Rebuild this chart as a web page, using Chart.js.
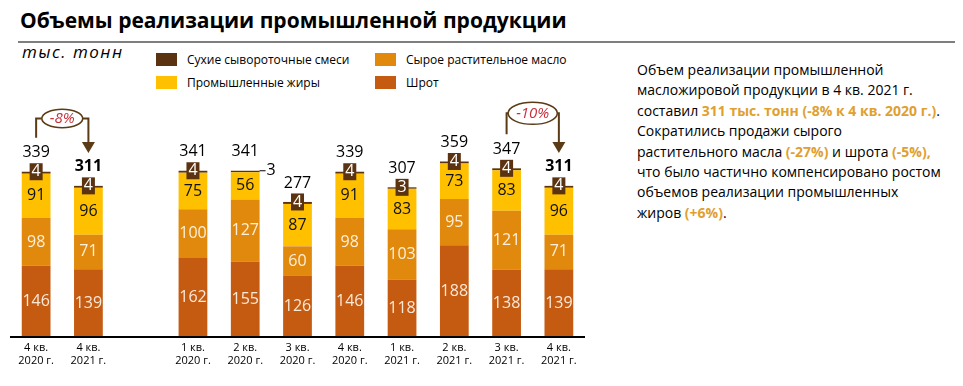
<!DOCTYPE html>
<html lang="ru">
<head>
<meta charset="utf-8">
<script src="https://cdn.jsdelivr.net/npm/chart.js@4.4.1/dist/chart.umd.min.js"></script>
<style>
    body { margin: 0; width: 963px; height: 386px; background: #fff; position: relative; overflow: hidden; font-family: "Open Sans", sans-serif; color: #000; }
    #title { position: absolute; left: 20px; top: 6px; font-size: 21px; font-weight: bold; }
    #rule { position: absolute; left: 18px; top: 41px; width: 937px; height: 2px; background: #7f7f7f; }
    #unit { position: absolute; left: 22px; top: 40px; font-style: italic; font-size: 17px; letter-spacing: 1.5px; }
    .legend-item { position: absolute; font-size: 12px; display: flex; align-items: center; white-space: nowrap; }
    .sw { width: 21px; height: 13px; margin-right: 10px; }
    #note { position: absolute; left: 637px; top: 60px; font-size: 14px; line-height: 20.4px; }
    .hl { color: #e0a030; font-weight: bold; }
    canvas { position: absolute; left: 0; top: 0; }
</style>
</head>
<body>
<div id="title">Объемы реализации промышленной продукции</div>
<div id="rule"></div>
<div id="unit">тыс. тонн</div>
<div id="legend"></div>
<div id="note">
    Объем реализации промышленной<br>
    масложировой продукции в 4 кв. 2021 г.<br>
    составил <span class="hl">311 тыс. тонн (-8% к 4 кв. 2020 г.)</span>.<br>
    Сократились продажи сырого<br>
    растительного масла <span class="hl">(-27%)</span> и шрота <span class="hl">(-5%),</span><br>
    что было частично компенсировано ростом<br>
    объемов реализации промышленных<br>
    жиров <span class="hl">(+6%)</span>.
</div>
<canvas id="salesChart" width="963" height="386"></canvas>
<script>
// Данные (тыс. тонн)
const categories = [
    ['4 кв.', '2020 г.'], ['4 кв.', '2021 г.'], '',
    ['1 кв.', '2020 г.'], ['2 кв.', '2020 г.'], ['3 кв.', '2020 г.'], ['4 кв.', '2020 г.'],
    ['1 кв.', '2021 г.'], ['2 кв.', '2021 г.'], ['3 кв.', '2021 г.'], ['4 кв.', '2021 г.']
];
const shrot = [146, 139, null, 162, 155, 126, 146, 118, 188, 138, 139];
const rawOil = [98, 71, null, 100, 127, 60, 98, 103, 95, 121, 71];
const fats = [91, 96, null, 75, 56, 87, 91, 83, 73, 83, 96];
const whey = [4, 4, null, 4, 3, 4, 4, 3, 4, 4, 4];
const totals = [339, 311, null, 341, 341, 277, 339, 307, 359, 347, 311];
const boldTotals = [1, 10];
const changes = [
    { from: 0, to: 1, text: '-8%' },
    { from: 9, to: 10, text: '-10%' }
];

const COLORS = {
    shrot: '#c55a11',
    rawOil: '#e0890c',
    fats: '#ffc000',
    whey: '#5c3310'
};
const ARROW = '#5b3a16';
const LABEL_FONT = '16px "Open Sans"';

// Легенда (в две колонки, как на слайде)
const legendItems = [
    { label: 'Сухие сывороточные смеси', color: COLORS.whey, x: 156, y: 51 },
    { label: 'Сырое растительное масло', color: COLORS.rawOil, x: 375, y: 51 },
    { label: 'Промышленные жиры', color: COLORS.fats, x: 156, y: 74 },
    { label: 'Шрот', color: COLORS.shrot, x: 375, y: 74 }
];
const legendEl = document.getElementById('legend');
legendItems.forEach(item => {
    const div = document.createElement('div');
    div.className = 'legend-item';
    div.style.left = item.x + 'px';
    div.style.top = item.y + 'px';
    div.innerHTML = `<span class="sw" style="background:${item.color}"></span>${item.label}`;
    legendEl.appendChild(div);
});

// Подписи значений, итоги и стрелки изменений
const labelsPlugin = {
    id: 'segmentLabels',
    afterDatasetsDraw(chart) {
        const ctx = chart.ctx;
        const xScale = chart.scales.x;
        const yScale = chart.scales.y;
        ctx.save();

        // базовая линия оси (на уровне нуля)
        const y0 = Math.round(yScale.getPixelForValue(0));
        ctx.fillStyle = '#000';
        ctx.fillRect(xScale.left, y0 - 1, xScale.right - xScale.left, 2);

        ctx.textAlign = 'center';
        ctx.textBaseline = 'middle';

        chart.data.datasets.forEach((ds, di) => {
            const meta = chart.getDatasetMeta(di);
            meta.data.forEach((bar, i) => {
                const v = ds.data[i];
                if (v == null) return;
                ctx.font = LABEL_FONT;
                if (ds.isWhey) {
                    if (v < 4 && i === 4) {
                        // выноска справа
                        const xr = bar.x + bar.width / 2;
                        ctx.strokeStyle = '#000';
                        ctx.lineWidth = 1;
                        ctx.beginPath();
                        ctx.moveTo(xr, bar.y);
                        ctx.lineTo(xr + 6, bar.y);
                        ctx.stroke();
                        ctx.fillStyle = '#000';
                        ctx.textAlign = 'left';
                        ctx.fillText(v, xr + 7, bar.y);
                        ctx.textAlign = 'center';
                    } else {
                        ctx.fillStyle = COLORS.whey;
                        ctx.fillRect(bar.x - 6.5, bar.y - 8.5, 13, 17);
                        ctx.fillStyle = '#fff';
                        ctx.fillText(v, bar.x, bar.y);
                    }
                } else {
                    ctx.fillStyle = ds.labelColor;
                    ctx.fillText(v, bar.x, (bar.y + bar.base) / 2);
                }
            });
        });

        // итоги над столбцами
        const topMeta = chart.getDatasetMeta(chart.data.datasets.length - 1);
        topMeta.data.forEach((bar, i) => {
            if (totals[i] == null) return;
            ctx.fillStyle = '#000';
            ctx.font = (boldTotals.includes(i) ? 'bold ' : '') + '16px "Open Sans"';
            ctx.fillText(totals[i], bar.x, bar.y - 19);
        });

        // стрелки изменений
        changes.forEach(c => {
            const x1 = xScale.getPixelForValue(c.from);
            const x2 = xScale.getPixelForValue(c.to);
            const top1 = topMeta.data[c.from].y;
            const top2 = topMeta.data[c.to].y;
            ctx.font = 'italic 15px "Open Sans"';
            const tw = ctx.measureText(c.text).width;
            const cx = (x1 + x2) / 2;
            const rx = Math.min(tw / 2 + 8, (x2 - x1) / 2);
            const ry = rx * 0.45;
            const start = top1 - 34;
            const tip = top2 - 33;
            const cy = start - ry - 10;

            ctx.strokeStyle = ARROW;
            ctx.lineWidth = 2;
            ctx.beginPath();
            ctx.moveTo(x1, start);
            ctx.lineTo(x1, cy);
            ctx.lineTo(cx - rx, cy);
            ctx.moveTo(cx + rx, cy);
            ctx.lineTo(x2, cy);
            ctx.lineTo(x2, tip - 10);
            ctx.stroke();

            ctx.fillStyle = ARROW;
            ctx.beginPath();
            ctx.moveTo(x2 - 6.5, tip - 11);
            ctx.lineTo(x2 + 6.5, tip - 11);
            ctx.lineTo(x2, tip);
            ctx.closePath();
            ctx.fill();

            ctx.lineWidth = 1.5;
            ctx.fillStyle = '#fff';
            ctx.beginPath();
            ctx.ellipse(cx, cy, rx, ry, 0, 0, Math.PI * 2);
            ctx.fill();
            ctx.stroke();

            ctx.fillStyle = '#c8303c';
            ctx.fillText(c.text, cx, cy + 0.5);
        });
        ctx.restore();
    }
};

const ctx = document.getElementById('salesChart');
new Chart(ctx, {
    type: 'bar',
    data: {
        labels: categories,
        datasets: [
            { label: 'Шрот', data: shrot, backgroundColor: COLORS.shrot, labelColor: '#fbe9d8' },
            { label: 'Сырое растительное масло', data: rawOil, backgroundColor: COLORS.rawOil, labelColor: '#fdf0dc' },
            { label: 'Промышленные жиры', data: fats, backgroundColor: COLORS.fats, labelColor: '#111' },
            { label: 'Сухие сывороточные смеси', data: whey, backgroundColor: COLORS.whey, isWhey: true }
        ]
    },
    options: {
        responsive: false,
        animation: false,
        layout: { padding: { left: 10, right: 378, top: 142, bottom: 0 } },
        datasets: { bar: { categoryPercentage: 1, barPercentage: 0.55, borderWidth: 0 } },
        scales: {
            x: {
                stacked: true,
                grid: { display: false, drawTicks: false },
                border: { display: false },
                ticks: { color: '#000', font: { family: 'Open Sans', size: 11 }, padding: 4, maxRotation: 0, autoSkip: false },
                afterFit(scale) { scale.height = 49; }
            },
            y: { stacked: true, display: false, min: 0, max: 400 }
        },
        plugins: {
            legend: { display: false },
            tooltip: { enabled: false }
        }
    },
    plugins: [labelsPlugin]
});
</script>
</body>
</html>
